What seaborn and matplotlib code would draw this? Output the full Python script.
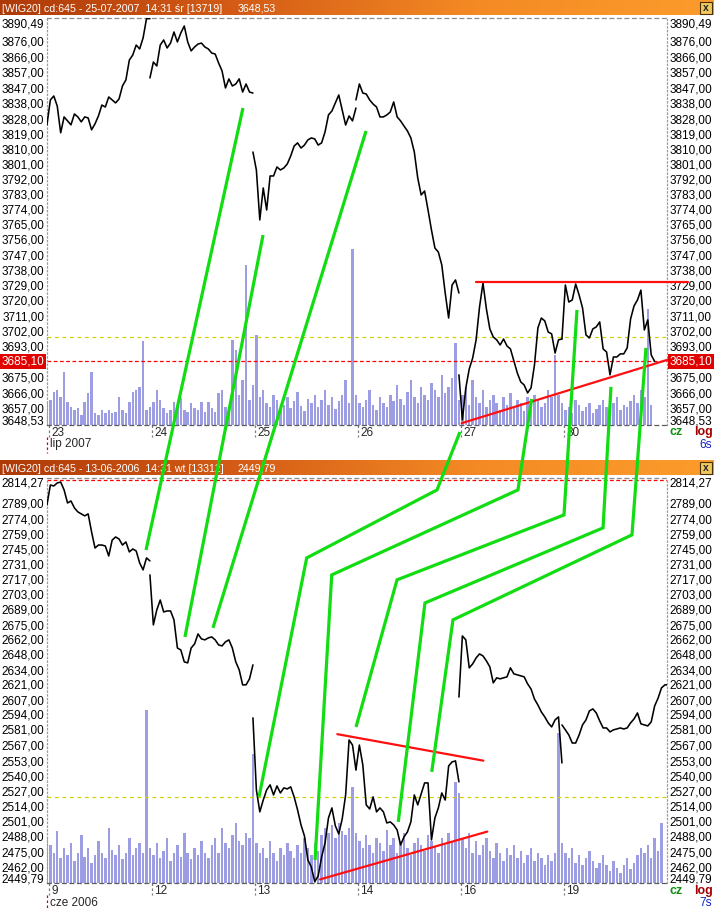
import numpy as np
import pandas as pd
import matplotlib
matplotlib.use("Agg")
import matplotlib.pyplot as plt
import matplotlib.transforms as mtransforms
from matplotlib.colors import LinearSegmentedColormap
from matplotlib.lines import Line2D
from matplotlib.patches import Rectangle
from matplotlib.ticker import NullLocator
import seaborn as sns

# WIG20 intraday, July 2007 (top chart) - one reading every ~14 minutes
jul23 = [3825.6, 3840.7, 3843.1, 3837.0, 3820.8, 3830.4, 3828.0, 3825.6, 3832.2, 3830.4, 3827.4,
         3830.4, 3829.8, 3822.6, 3826.2, 3831.0, 3837.6, 3836.4, 3842.5, 3840.7, 3838.9, 3841.3,
         3849.2, 3852.9, 3865.0, 3868.1, 3874.2, 3871.8, 3878.5, 3890.4, 3890.4]
jul24 = [3854.1, 3863.8, 3861.4, 3874.2, 3877.3, 3872.4, 3875.4, 3882.2, 3876.1, 3881.6, 3885.9,
         3876.1, 3870.6, 3873.0, 3874.8, 3875.4, 3873.0, 3871.8, 3869.3, 3868.7, 3863.2, 3858.4,
         3848.0, 3853.5, 3849.2, 3850.4, 3853.5, 3845.5, 3850.4, 3845.5, 3844.9]
jul25 = [3809.2, 3798.4, 3768.5, 3787.6, 3774.4, 3794.8, 3794.8, 3800.2, 3798.4, 3799.6, 3802.0,
         3806.8, 3812.8, 3814.7, 3811.6, 3813.4, 3816.5, 3817.7, 3817.1, 3813.4, 3814.7, 3821.3,
         3831.6, 3834.0, 3838.9, 3843.7, 3834.6, 3825.5, 3831.0, 3828.0, 3835.8]
jul26 = [3840.7, 3850.4, 3844.9, 3844.3, 3840.7, 3838.2, 3836.4, 3830.4, 3830.4, 3831.6, 3833.4,
         3839.5, 3830.4, 3828.0, 3824.9, 3821.9, 3817.7, 3809.2, 3793.6, 3783.4, 3785.8, 3774.4,
         3762.5, 3751.8, 3749.4, 3741.8, 3725.2, 3710.5, 3729.9, 3732.9, 3725.2]
jul27 = [3677.3, 3651.2, 3669.7, 3680.7, 3687.1, 3697.7, 3717.0, 3731.1, 3715.8, 3704.1, 3699.4,
         3697.7, 3694.7, 3698.2, 3694.1, 3692.4, 3685.4, 3678.4, 3673.2, 3671.4, 3666.8, 3669.7,
         3683.1, 3704.7, 3710.5, 3708.8, 3702.3, 3701.2, 3690.0, 3697.7, 3698.2]
jul30 = [3698.2, 3729.9, 3719.9, 3721.1, 3730.5, 3724.0, 3716.4, 3700.6, 3698.8, 3704.1, 3705.3,
         3708.2, 3692.4, 3690.6, 3677.3, 3687.7, 3687.7, 3689.5, 3689.5, 3693.0, 3710.0, 3717.6,
         3721.1, 3726.9, 3703.5, 3709.4, 3688.9, 3685.1]

jul23_vol = [23, 25, 33, 35, 28, 53, 23, 18, 15, 17, 10, 23, 32, 53, 12, 10, 15, 12, 15, 12,
             13, 28, 15, 12, 23, 33, 35, 38, 84, 15]
jul24_vol = [18, 23, 35, 25, 17, 12, 15, 23, 18, 27, 15, 13, 22, 17, 15, 23, 13, 23, 17, 13,
             32, 35, 18, 13, 85, 75, 30, 45, 160, 25]
jul25_vol = [40, 90, 28, 35, 22, 18, 30, 25, 15, 20, 28, 17, 24, 33, 19, 14, 26, 22, 30, 18,
             25, 35, 20, 28, 16, 24, 30, 45, 22, 175]
jul26_vol = [30, 22, 18, 25, 35, 20, 15, 28, 22, 18, 30, 24, 40, 26, 20, 33, 45, 28, 22, 38,
             30, 25, 42, 35, 28, 50, 32, 38, 47, 82]
jul27_vol = [25, 30, 38, 20, 45, 28, 22, 35, 18, 25, 30, 22, 15, 28, 20, 32, 18, 25, 22, 14,
             28, 20, 30, 25, 18, 22, 35, 28, 70, 30]
jul30_vol = [22, 15, 18, 12, 25, 20, 14, 18, 22, 12, 16, 20, 25, 18, 14, 22, 28, 15, 20, 18,
             24, 30, 22, 35, 28, 116, 20]

# WIG20 intraday, June 2006 (bottom chart)
jun09 = [2788.4, 2807.5, 2806.6, 2809.5, 2810.4, 2802.8, 2790.3, 2792.2, 2785.6, 2781.8, 2779.9,
         2778.0, 2779.9, 2762.8, 2747.6, 2750.4, 2750.4, 2749.5, 2740.1, 2755.1, 2758.0, 2756.1,
         2750.4, 2753.3, 2743.9, 2746.7, 2744.8, 2733.6, 2727.1, 2738.3, 2735.5]
jun12 = [2722.4, 2676.2, 2690.0, 2699.1, 2688.1, 2689.0, 2689.0, 2680.8, 2655.1, 2653.3, 2642.5,
         2641.6, 2655.1, 2658.8, 2667.9, 2663.4, 2662.5, 2664.3, 2665.2, 2662.5, 2657.9, 2657.0,
         2660.7, 2662.5, 2655.1, 2642.5, 2635.3, 2621.8, 2621.8, 2627.2, 2639.8]
jun13 = [2592.3, 2529.2, 2510.2, 2520.4, 2529.2, 2533.5, 2524.8, 2532.6, 2526.5, 2530.9, 2530.0,
         2531.8, 2523.1, 2511.9, 2499.0, 2489.6, 2469.2, 2463.2, 2451.0, 2455.6, 2471.7, 2483.6,
         2505.0, 2513.6, 2498.2, 2491.3, 2504.2, 2524.8, 2572.8, 2568.3, 2546.6]
jun14 = [2546.6, 2568.3, 2550.9, 2516.2, 2512.7, 2523.1, 2510.2, 2513.6, 2510.2, 2500.7, 2501.6,
         2499.0, 2494.7, 2481.9, 2488.8, 2493.0, 2501.6, 2524.8, 2516.2, 2525.7, 2535.2, 2535.2,
         2486.2, 2505.0, 2513.6, 2526.5, 2520.4, 2550.0, 2553.5, 2554.4, 2536.1]
jun16 = [2610.9, 2666.1, 2662.5, 2637.1, 2640.7, 2646.1, 2649.7, 2647.9, 2643.4, 2638.0, 2623.6,
         2628.1, 2627.2, 2628.1, 2629.0, 2637.1, 2631.7, 2630.8, 2629.9, 2629.0, 2622.7, 2618.1,
         2609.1, 2603.8, 2597.6, 2593.2, 2587.9, 2584.3, 2590.5, 2593.2, 2552.6]
jun19 = [2586.1, 2581.7, 2577.2, 2570.1, 2570.1, 2577.2, 2586.1, 2590.5, 2598.5, 2600.3, 2596.7,
         2589.6, 2583.4, 2583.4, 2579.9, 2581.7, 2582.5, 2583.4, 2582.5, 2583.4, 2587.9, 2591.4,
         2596.7, 2587.0, 2586.1, 2585.2, 2588.7, 2602.9, 2609.9, 2619.1, 2621.8, 2621.8]

jun09_vol = [45, 38, 30, 52, 25, 35, 28, 40, 22, 30, 48, 26, 35, 20, 28, 42, 30, 25, 55, 33,
             28, 38, 24, 30, 45, 28, 35, 40, 30, 173]
jun12_vol = [35, 28, 40, 25, 32, 45, 22, 30, 38, 26, 50, 30, 24, 35, 28, 42, 30, 25, 38, 45,
             30, 55, 40, 35, 48, 60, 42, 38, 50, 45]
jun13_vol = [129, 40, 30, 35, 25, 42, 30, 22, 35, 28, 40, 32, 25, 38, 30, 45, 35, 28, 40, 32,
             48, 55, 50, 58, 45, 60, 52, 48, 55, 96]
jun14_vol = [50, 42, 35, 48, 38, 30, 45, 40, 32, 53, 38, 45, 30, 42, 50, 35, 28, 40, 45, 38,
             32, 48, 42, 36, 30, 45, 38, 50, 42, 101]
jun16_vol = [90, 45, 35, 50, 30, 42, 28, 38, 45, 32, 25, 40, 30, 22, 35, 28, 38, 25, 32, 20,
             28, 35, 22, 30, 25, 18, 28, 22, 30, 150]
jun19_vol = [40, 30, 25, 35, 20, 28, 18, 25, 32, 22, 15, 20, 28, 18, 12, 22, 15, 10, 18, 25,
             14, 20, 28, 35, 30, 38, 25, 45, 32, 60]

top_days = ["23", "24", "25", "26", "27", "30"]
bot_days = ["9", "12", "13", "14", "16", "19"]
top_ticks = [3876, 3866, 3857, 3847, 3838, 3828, 3819, 3810, 3801, 3792, 3783, 3774, 3765,
             3756, 3747, 3738, 3729, 3720, 3711, 3702, 3693, 3675, 3666, 3657]
bot_ticks = [2789, 2774, 2759, 2745, 2731, 2717, 2703, 2689, 2675, 2662, 2648, 2634, 2621,
             2607, 2594, 2581, 2567, 2553, 2540, 2527, 2514, 2501, 2488, 2475, 2462]
top_range = (3648.53, 3890.49)
bot_range = (2449.79, 2814.27)

# hand-drawn analysis lines (session x, price)
link1 = [("top", 1.883, 3835.8), ("bot", 0.942, 2745.7)]
link2 = [("top", 2.078, 3759.5), ("bot", 1.320, 2665.2)]
link3 = [("top", 3.078, 3821.9), ("bot", 1.592, 2673.5)]
link4 = [("top", 3.990, 3644.2), ("bot", 3.767, 2802.8), ("bot", 2.502, 2738.3), ("bot", 2.039, 2523.1)]
link5 = [("top", 4.686, 3663.3), ("bot", 4.553, 2802.8), ("bot", 2.745, 2722.4), ("bot", 2.583, 2469.2)]
link6 = [("top", 5.126, 3715.2), ("bot", 5.000, 2778.9), ("bot", 3.379, 2717.8), ("bot", 2.981, 2584.3)]
link7 = [("top", 5.456, 3670.3), ("bot", 5.379, 2766.6), ("bot", 3.650, 2696.4), ("bot", 3.391, 2501.6)]
link8 = [("top", 5.796, 3693.0), ("bot", 5.660, 2760.0), ("bot", 3.922, 2680.8), ("bot", 3.716, 2544.8)]
top_trends = [[(4.146, 3731.7), (6.204, 3731.7)], [(4.007, 3649.3), (6.029, 3686.5)]]
bot_trends = [[(2.799, 2577.9), (4.217, 2554.6)], [(2.631, 2452.8), (4.255, 2493.3)]]

sns.set_theme(style="white")
plt.rcParams["font.family"] = ["Liberation Sans", "DejaVu Sans"]

W, H = 714, 910
fig = plt.figure(figsize=(W / 100, H / 100), dpi=100)
fig.patch.set_facecolor("white")


def box(left, top, right, bottom):
    return [left / W, 1 - bottom / H, (right - left) / W, (bottom - top) / H]


def fmt(v):
    return f"{v:.2f}".replace(".", ",")


bar_cmap = LinearSegmentedColormap.from_list("bar", ["#ae3a08", "#d45c16", "#f48a24", "#fc9c2c"])


def title_bar(top, bottom, text, value):
    tax = fig.add_axes(box(0, top, W, bottom))
    tax.imshow(np.linspace(0, 1, 256)[None, :], aspect="auto", cmap=bar_cmap, extent=(0, W, 0, 1))
    tax.set_xlim(0, W)
    tax.set_ylim(0, 1)
    tax.set_axis_off()
    tax.text(2, 0.45, text, color="white", fontsize=7.7, va="center", ha="left")
    tax.text(238, 0.45, value, color="white", fontsize=7.7, va="center", ha="left")
    tax.add_patch(Rectangle((700, 0.1), 12, 0.8, fc="#f0c860", ec="#4a3000", lw=0.8))
    tax.text(706, 0.48, "x", fontsize=7.5, fontweight="bold", ha="center", va="center")


def price_panel(rect, sessions, volumes, yrange, ticks, days, month, vol_ref, mark, boxed, low_lift):
    height = rect[3] - rect[1]
    ax = fig.add_axes(box(*rect))
    axv = ax.twinx()
    ax.set_zorder(axv.get_zorder() + 1)
    ax.patch.set_visible(False)

    frames = []
    for i, vals in enumerate(sessions):
        frames.append(pd.DataFrame({"x": i - 0.02 + np.arange(len(vals)) / 30,
                                    "price": vals, "session": i}))
    df = pd.concat(frames, ignore_index=True)
    ax.set_yscale("log")
    sns.lineplot(data=df, x="x", y="price", units="session", estimator=None,
                 color="black", lw=1.15, ax=ax, legend=False, zorder=3)

    for i, vols in enumerate(volumes):
        xs = i - 0.02 + np.arange(len(vols)) / 30
        axv.bar(xs, vols, width=0.024, color="#9d9de3", linewidth=0)
    axv.set_ylim(0, height)
    axv.axhline(vol_ref, color="#d2d200", lw=0.9, ls=(0, (3, 3)))

    ax.set_xlim(-0.0194, 6.0)
    ax.set_ylim(*yrange)
    for a in (ax, axv):
        a.xaxis.set_major_locator(NullLocator())
        a.xaxis.set_minor_locator(NullLocator())
        a.yaxis.set_major_locator(NullLocator())
        a.yaxis.set_minor_locator(NullLocator())
        a.set_xlabel("")
        a.set_ylabel("")
    for s in axv.spines.values():
        s.set_visible(False)
    ax.spines["top"].set(linestyle=(0, (3, 3)), color="#8c8c8c", lw=0.9)
    ax.spines["bottom"].set(linestyle=(0, (3, 3)), color="#5c5c5c", lw=0.9)
    for side in ("left", "right"):
        ax.spines[side].set(linestyle=(0, (1, 2)), color="#9a9a9a", lw=0.9)

    ax.axhline(mark, color="#ff0000", lw=0.9, ls=(0, (3, 2)), zorder=2)

    ytr = mtransforms.blended_transform_factory(ax.transAxes, ax.transData)
    low_tr = mtransforms.offset_copy(ytr, fig=fig, y=low_lift, units="dots")
    kw = dict(fontsize=8.5, clip_on=False, color="black")
    for t in ticks:
        ax.text(-0.004, t, fmt(t), ha="right", va="center", transform=ytr, **kw)
        ax.text(1.004, t, fmt(t), ha="left", va="center", transform=ytr, **kw)
    for xa, ha in ((-0.004, "right"), (1.004, "left")):
        ax.text(xa, yrange[1], fmt(yrange[1]), ha=ha, va="top", transform=ytr, **kw)
        ax.text(xa, yrange[0], fmt(yrange[0]), ha=ha, va="center", transform=low_tr, **kw)
        if boxed:
            ax.text(xa, mark, fmt(mark), ha=ha, va="center", transform=ytr, fontsize=8.5,
                    clip_on=False, color="white", zorder=6,
                    bbox=dict(boxstyle="square,pad=0.12", fc="#e00000", ec="none"))

    xtr = mtransforms.blended_transform_factory(ax.transData, ax.transAxes)
    px = 1 / (rect[3] - rect[1])
    for i, lab in enumerate(days):
        ax.plot([i, i], [0, -12 * px], transform=xtr, clip_on=False, color="#7a7a7a",
                lw=0.9, ls=(0, (2, 2)))
        ax.text(i + 0.02, -2 * px, lab, transform=xtr, ha="left", va="top", fontsize=8.5)
    ax.plot([-0.016, -0.016], [-12 * px, -28 * px], transform=xtr, clip_on=False,
            color="#d00000", lw=0.9, ls=(0, (2, 2)))
    ax.text(0.01, -14 * px, month, transform=xtr, ha="left", va="top", fontsize=8.5)
    return ax


title_bar(0, 15.5, "[WIG20] cd:645 - 25-07-2007  14:31 \u015br [13719]", "3648,53")
title_bar(460, 475.5, "[WIG20] cd:645 - 13-06-2006  14:31 wt [13312]", "2449,79")

ax_top = price_panel((47, 18.5, 667, 424.5),
                     [jul23, jul24, jul25, jul26, jul27, jul30],
                     [jul23_vol, jul24_vol, jul25_vol, jul26_vol, jul27_vol, jul30_vol],
                     top_range, top_ticks, top_days, "lip 2007", 88, 3685.10, True, 3)
ax_bot = price_panel((47, 478, 667, 883),
                     [jun09, jun12, jun13, jun14, jun16, jun19],
                     [jun09_vol, jun12_vol, jun13_vol, jun14_vol, jun16_vol, jun19_vol],
                     bot_range, bot_ticks, bot_days, "cze 2006", 86, 2812.3, False, 3)

for ax, trends in ((ax_top, top_trends), (ax_bot, bot_trends)):
    for (x0, y0), (x1, y1) in trends:
        ax.plot([x0, x1], [y0, y1], color="#ff1010", lw=1.6, clip_on=False, zorder=5)

for y_cz, y_s, tag in ((432, 445, "6s"), (891, 903, "7s")):
    fig.text(670 / W, 1 - y_cz / H, "cz", color="#109010", fontsize=9, fontweight="bold", va="center")
    fig.text(694 / W, 1 - y_cz / H, "log", color="#a00000", fontsize=9, fontweight="bold", va="center")
    fig.text(712 / W, 1 - y_s / H, tag, color="#1020c0", fontsize=8.5, ha="right", va="center")

to_fig = fig.transFigure.inverted()
panels = {"top": ax_top, "bot": ax_bot}
for link in (link1, link2, link3, link4, link5, link6, link7, link8):
    pts = [to_fig.transform(panels[p].transData.transform((x, y))) for p, x, y in link]
    xs, ys = zip(*pts)
    fig.add_artist(Line2D(xs, ys, transform=fig.transFigure, color="#12dc12", lw=2.3,
                          solid_capstyle="butt", solid_joinstyle="miter", zorder=20))

fig.savefig("out.png", dpi=100)
